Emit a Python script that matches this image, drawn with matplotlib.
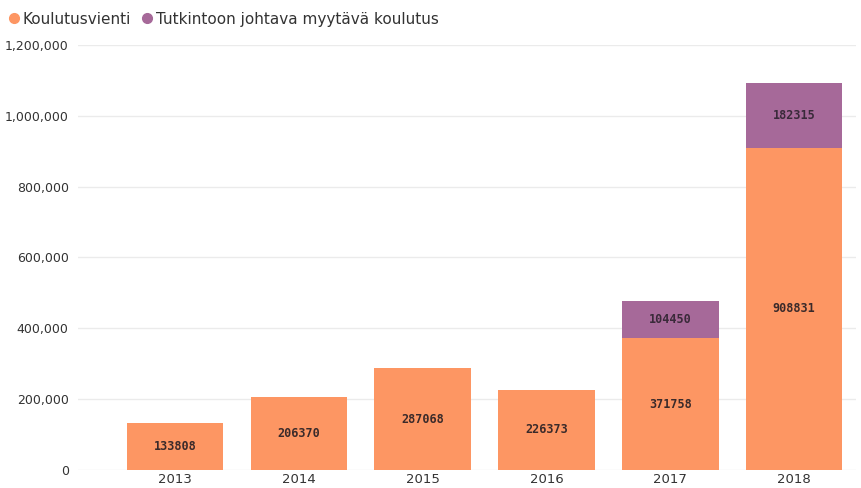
import matplotlib.pyplot as plt
import numpy as np
from matplotlib.ticker import FuncFormatter
from matplotlib.lines import Line2D

years = ['2013', '2014', '2015', '2016', '2017', '2018']
koulutusvienti = [133808, 206370, 287068, 226373, 371758, 908831]
tutkintoon = [0, 0, 0, 0, 104450, 182315]

c_orange = '#FD9663'
c_purple = '#A66999'

fig = plt.figure(figsize=(8.62, 4.88), dpi=100)
ax = fig.add_axes([0.091, 0.037, 0.902, 0.871])

x = np.arange(len(years))
w = 0.78
ax.bar(x, koulutusvienti, width=w, color=c_orange, zorder=2)
ax.bar(x, tutkintoon, width=w, bottom=koulutusvienti, color=c_purple, zorder=2)

# arvot palkkien keskelle
for i in range(len(years)):
    ax.text(x[i], koulutusvienti[i] / 2, str(koulutusvienti[i]), ha='center', va='center',
            fontsize=8.5, fontweight='bold', family='DejaVu Sans Mono', color='#3a2a2a', zorder=3)
    if tutkintoon[i] > 0:
        ax.text(x[i], koulutusvienti[i] + tutkintoon[i] / 2, str(tutkintoon[i]), ha='center',
                va='center', fontsize=8.5, fontweight='bold', family='DejaVu Sans Mono',
                color='#3a2a3a', zorder=3)

ax.set_xlim(-0.78, 5.5)
ax.set_ylim(0, 1200000)
ax.set_yticks(np.arange(0, 1200001, 200000))
ax.yaxis.set_major_formatter(FuncFormatter(lambda v, p: f'{int(v):,}'))
ax.set_xticks(x)
ax.set_xticklabels(years)
ax.grid(axis='y', color='#ebebeb', linewidth=1, zorder=0)
for s in ax.spines.values():
    s.set_visible(False)
ax.tick_params(length=0, labelsize=9.5, colors='#333333')
ax.tick_params(axis='y', pad=7, labelsize=9)
ax.tick_params(axis='x', pad=2)

handles = [Line2D([], [], marker='o', linestyle='', color=c_orange, markersize=7),
           Line2D([], [], marker='o', linestyle='', color=c_purple, markersize=7)]
fig.legend(handles, ['Koulutusvienti', 'Tutkintoon johtava myytävä koulutus'],
           loc='upper left', bbox_to_anchor=(-0.01, 0.998), ncol=2, frameon=False,
           fontsize=11, handletextpad=-0.15, handlelength=1.5, columnspacing=0.3,
           borderaxespad=0.3, labelcolor='#333333')

fig.savefig('out.png', dpi=100)
